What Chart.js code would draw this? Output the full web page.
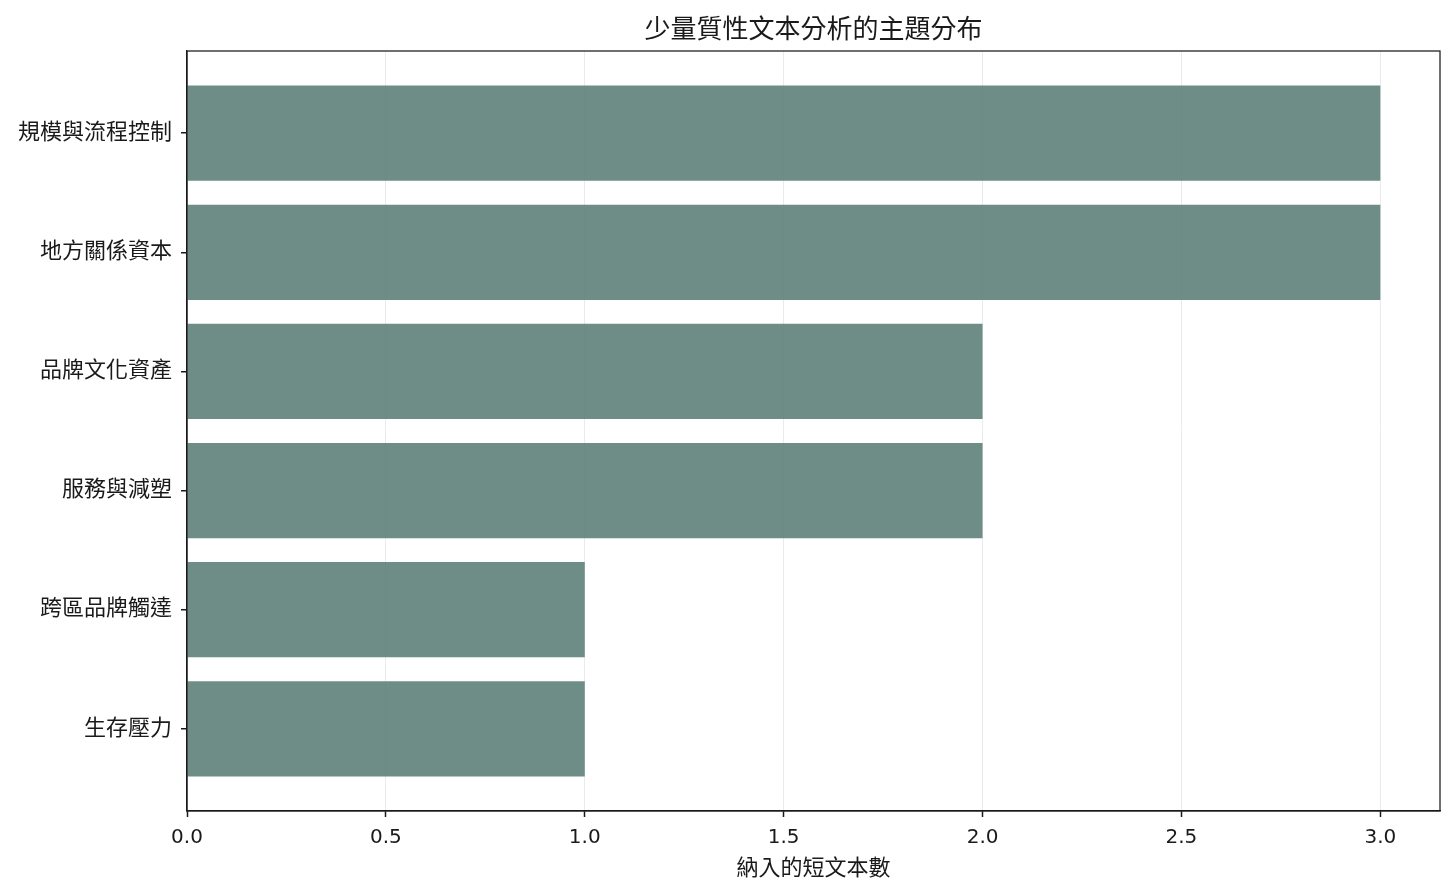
<!DOCTYPE html>
<html>
<head>
<meta charset="utf-8">
<script src="https://cdn.jsdelivr.net/npm/chart.js@4/dist/chart.umd.min.js"></script>
<style>
  html, body { margin: 0; padding: 0; background: #fff; }
  #wrap { width: 1456px; height: 896px; }
</style>
</head>
<body>
<div id="wrap"><canvas id="chart"></canvas></div>
<script>
// données
const themes = ['規模與流程控制', '地方關係資本', '品牌文化資產', '服務與減塑', '跨區品牌觸達', '生存壓力'];
const counts = [3, 3, 2, 2, 1, 1];
const xTicks = [0, 0.5, 1, 1.5, 2, 2.5, 3];

const FONT = '"DejaVu Sans", "Noto Sans CJK TC", sans-serif';
Chart.defaults.font.family = FONT;
Chart.defaults.color = '#1a1a1a';

// cadre complet autour de la zone du graphe (comme matplotlib)
const boxPlugin = {
    id: 'box',
    afterDraw(chart) {
        const a = chart.chartArea;
        const ctx = chart.ctx;
        ctx.save();
        ctx.strokeStyle = '#1a1a1a';
        ctx.lineWidth = 1.25;
        ctx.strokeRect(a.left, a.top, a.right - a.left, a.bottom - a.top);
        ctx.restore();
    }
};

const ctx = document.getElementById('chart').getContext('2d');
new Chart(ctx, {
    type: 'bar',
    data: {
        datasets: [{
            data: counts.map((v, i) => ({ x: v, y: i })),
            backgroundColor: 'rgba(95,129,122,0.9)',
            borderWidth: 0,
            barPercentage: 0.8,
            categoryPercentage: 1
        }]
    },
    options: {
        indexAxis: 'y',
        responsive: true,
        maintainAspectRatio: false,
        animation: false,
        layout: { padding: { left: 0, right: 16, top: 0, bottom: 0 } },
        plugins: {
            legend: { display: false },
            tooltip: { enabled: false },
            title: {
                display: true,
                fullSize: false,
                text: '少量質性文本分析的主題分布',
                font: { size: 26, weight: 'normal' },
                color: '#1a1a1a',
                padding: { top: 15.4, bottom: 4.4 }
            }
        },
        scales: {
            x: {
                type: 'linear',
                min: 0,
                max: 3.15,
                afterBuildTicks: axis => { axis.ticks = xTicks.map(v => ({ value: v })); },
                afterFit: axis => { axis.height = 85; },
                ticks: {
                    font: { size: 20 },
                    color: '#1a1a1a',
                    padding: 9,
                    maxRotation: 0,
                    callback: v => v.toFixed(1)
                },
                grid: {
                    color: '#ebebeb',
                    lineWidth: 1,
                    tickLength: 6,
                    tickColor: '#1a1a1a',
                    tickWidth: 1.5
                },
                border: { display: true, color: '#1a1a1a', width: 1.25 },
                title: {
                    display: true,
                    text: '納入的短文本數',
                    font: { size: 22 },
                    color: '#1a1a1a',
                    padding: { top: 0, bottom: 13.8 }
                }
            },
            y: {
                type: 'linear',
                min: -0.69,
                max: 5.69,
                reverse: true,
                offset: false,
                afterBuildTicks: axis => { axis.ticks = themes.map((t, i) => ({ value: i })); },
                afterFit: axis => { axis.width = 187; },
                ticks: {
                    font: { size: 22 },
                    color: '#1a1a1a',
                    padding: 9,
                    callback: v => themes[v]
                },
                grid: {
                    offset: false,
                    drawOnChartArea: false,
                    tickLength: 6,
                    color: '#1a1a1a',
                    tickColor: '#1a1a1a',
                    lineWidth: 1.5,
                    tickWidth: 1.5
                },
                border: { display: true, color: '#1a1a1a', width: 1.25 }
            }
        }
    },
    plugins: [boxPlugin]
});
</script>
</body>
</html>
